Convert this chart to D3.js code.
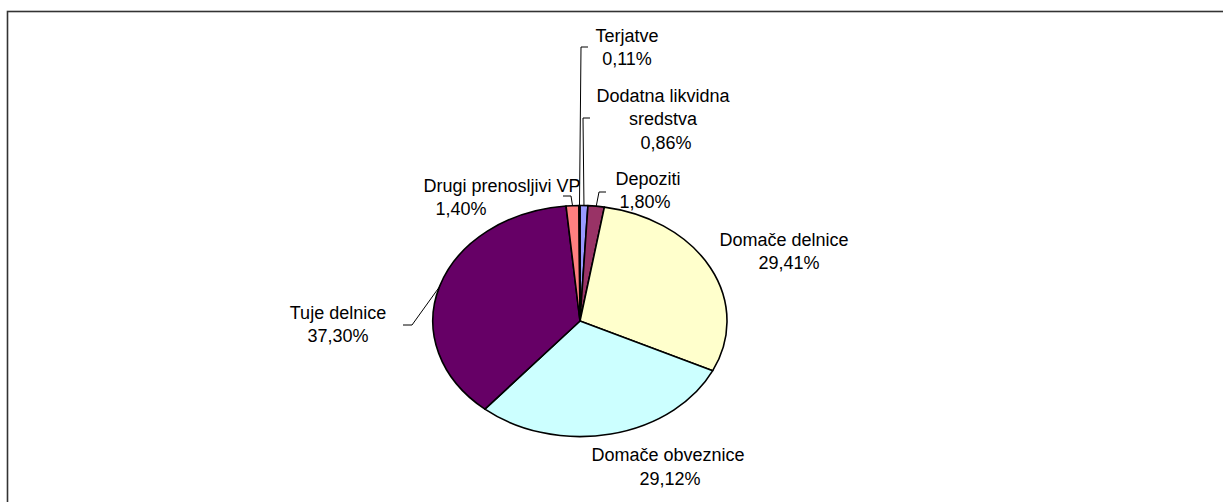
<!DOCTYPE html>
<html>
<head>
<meta charset="utf-8">
<script src="https://cdn.jsdelivr.net/npm/d3@7/dist/d3.min.js"></script>
<style>
  body { margin: 0; background: #fff; }
  svg { display: block; }
  text { font-family: "Liberation Sans", Arial, sans-serif; font-size: 18px; fill: #000; }
</style>
</head>
<body>
<div id="chart"></div>
<script>
var width = 1223,
  height = 502;

// data, in the order the slices run clockwise from 12 o'clock
var categories = ["Dodatna likvidna sredstva", "Depoziti", "Domače delnice", "Domače obveznice", "Tuje delnice", "Drugi prenosljivi VP", "Terjatve"];
var values = [0.86, 1.80, 29.41, 29.12, 37.30, 1.40, 0.11];
var colors = ["#9999FF", "#993366", "#FFFFCC", "#CCFFFF", "#660066", "#FF8080", "#0066CC"];
// how each category name breaks into lines in its label
var nameLines = [["Dodatna likvidna", "sredstva"], ["Depoziti"], ["Domače delnice"], ["Domače obveznice"], ["Tuje delnice"], ["Drugi prenosljivi VP"], ["Terjatve"]];

// label layout: centre x of each line, first baseline, leader knee (null = no leader)
var labelLayout = [
  { cx: [663, 663, 666], y: 101.5, knee: [590, 118] },
  { cx: [648, 645], y: 184.5, knee: [606, 192] },
  { cx: [784, 789], y: 245.5, knee: null },
  { cx: [668, 670], y: 461, knee: null },
  { cx: [338, 338], y: 318.5, knee: [403, 325] },
  { cx: [502, 461], y: 191.5, knee: [563, 196] },
  { cx: [627, 627], y: 41.5, knee: [588, 47] }
];
var lineHeight = 23.5;

var cx = 580, cy = 321, rx = 147, ry = 115.5;

var svg = d3.select("#chart").append("svg")
  .attr("width", width)
  .attr("height", height);

// outer frame (runs off the right and bottom)
svg.append("rect")
  .attr("x", 7.5)
  .attr("y", 11.5)
  .attr("width", 1240)
  .attr("height", 520)
  .attr("fill", "none")
  .attr("stroke", "#333")
  .attr("stroke-width", 1.6);

var data = categories.map(function (c, i) { return { name: c, value: values[i], i: i }; });

var pie = d3.pie()
  .sort(null)
  .value(function (d) { return d.value; });

var arcs = pie(data);

var arc = d3.arc()
  .innerRadius(0)
  .outerRadius(1);

// unit circle pie, stretched into the ellipse
var g = svg.append("g")
  .attr("transform", "translate(" + cx + "," + cy + ") scale(" + rx + "," + ry + ")");

g.selectAll("path")
  .data(arcs)
  .enter()
  .append("path")
  .attr("d", arc)
  .attr("fill", function (d) { return colors[d.data.i]; })
  .attr("stroke", "#000")
  .attr("stroke-width", 1.6)
  .attr("vector-effect", "non-scaling-stroke")
  .attr("stroke-linejoin", "round");

function edgePoint(d) {
  var a = (d.startAngle + d.endAngle) / 2;
  return [cx + rx * Math.sin(a), cy - ry * Math.cos(a)];
}

// leader lines
var leaders = svg.append("g");
arcs.forEach(function (d) {
  var lay = labelLayout[d.data.i];
  if (!lay.knee) return;
  var p = edgePoint(d);
  var dir = lay.knee[0] < p[0] ? 1 : -1;
  var kx = p[0] - dir * 0;
  var pts = [lay.knee, [kx, lay.knee[1]], p];
  // knee horizontal runs from label side towards the slice x
  if (d.data.i === 4) pts = [lay.knee, [lay.knee[0] + 9, lay.knee[1]], p];
  else if (d.data.i === 5) pts = [lay.knee, [lay.knee[0] + 8, lay.knee[1]], p];
  else pts = [lay.knee, [lay.knee[0] - 7, lay.knee[1]], p];
  leaders.append("path")
    .attr("d", d3.line()(pts))
    .attr("fill", "none")
    .attr("stroke", "#000")
    .attr("stroke-width", 1);
});

// labels
var labels = svg.append("g");
arcs.forEach(function (d) {
  var i = d.data.i;
  var lay = labelLayout[i];
  var lines = nameLines[i].concat([d3.format(".2f")(values[i]).replace(".", ",") + "%"]);
  lines.forEach(function (t, k) {
    labels.append("text")
      .attr("x", lay.cx[k])
      .attr("y", lay.y + k * lineHeight)
      .attr("text-anchor", "middle")
      .text(t);
  });
});
</script>
</body>
</html>
